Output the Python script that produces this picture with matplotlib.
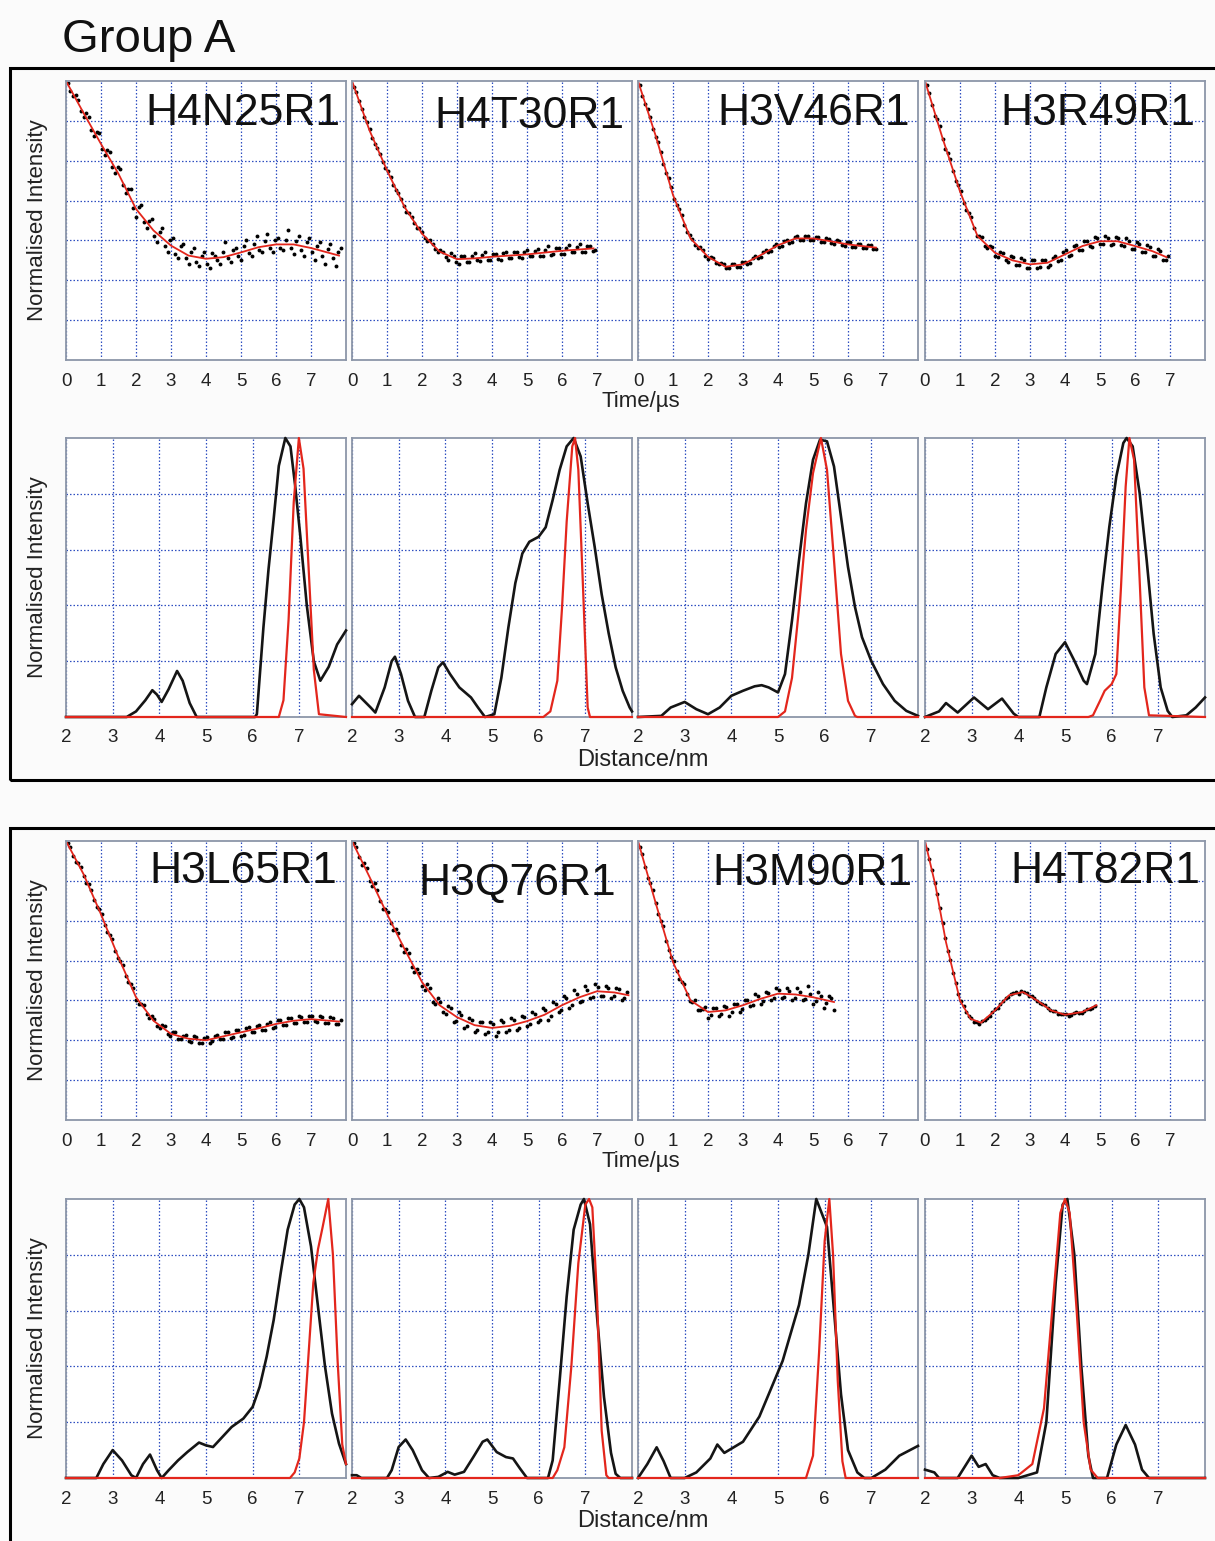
import matplotlib
matplotlib.use("Agg")
import matplotlib.pyplot as plt
from matplotlib.patches import Rectangle

plt.rcParams['font.family'] = ['Liberation Sans', 'DejaVu Sans']

# ---- time domain: sample times shared by the dot traces (each trace uses its own length)
dot_t = [0.05, 0.2, 0.35, 0.5, 0.65, 0.8, 0.95, 1.1, 1.25, 1.4, 1.55, 1.7, 1.85, 2.0,
         2.15, 2.3, 2.45, 2.6, 2.75, 2.9, 3.05, 3.2, 3.35, 3.5, 3.65, 3.8, 3.95, 4.1,
         4.25, 4.4, 4.55, 4.7, 4.85, 5.0, 5.15, 5.3, 5.45, 5.6, 5.75, 5.9, 6.05, 6.2,
         6.35, 6.5, 6.65, 6.8, 6.95, 7.1, 7.25, 7.4, 7.55, 7.7, 7.85]
dot_t2 = [0.125, 0.275, 0.425, 0.575, 0.725, 0.875, 1.025, 1.175, 1.325, 1.475, 1.625,
          1.775, 1.925, 2.075, 2.225, 2.375, 2.525, 2.675, 2.825, 2.975, 3.125, 3.275,
          3.425, 3.575, 3.725, 3.875, 4.025, 4.175, 4.325, 4.475, 4.625, 4.775, 4.925,
          5.075, 5.225, 5.375, 5.525, 5.675, 5.825, 5.975, 6.125, 6.275, 6.425, 6.575,
          6.725, 6.875, 7.025, 7.175, 7.325, 7.475, 7.625, 7.775]

names_a = ['H4N25R1', 'H4T30R1', 'H3V46R1', 'H3R49R1']
names_b = ['H3L65R1', 'H3Q76R1', 'H3M90R1', 'H4T82R1']

# H4N25R1
a1_fit_t = [0, 0.5, 1, 1.5, 2, 2.5, 3, 3.5, 4, 4.5, 5, 5.5, 6, 6.5, 7, 7.8]
a1_fit_y = [7.0, 6.2, 5.42, 4.67, 3.79, 3.25, 2.87, 2.62, 2.54, 2.58, 2.70, 2.83, 2.90, 2.90, 2.81, 2.62]
a1_dots = [6.95, 6.62, 6.52, 6.1, 6.1, 5.62, 5.7, 5.15, 5.22, 4.7, 4.78, 4.2, 4.28, 3.6,
           3.9, 3.3, 3.55, 2.95, 3.3, 2.7, 3.05, 2.55, 2.9, 2.4, 2.8, 2.35, 2.7, 2.3,
           2.62, 2.4, 2.95, 2.45, 2.8, 2.5, 3.0, 2.6, 3.1, 2.7, 3.15, 2.7, 3.05, 2.75,
           3.25, 2.65, 3.1, 2.6, 3.05, 2.5, 2.95, 2.4, 2.9, 2.35, 2.8]
a1_dots2 = [6.75, 6.65, 6.25, 6.2, 5.78, 5.72, 5.3, 5.28, 4.85, 4.85, 4.38, 4.3, 3.82, 3.85,
            3.45, 3.5, 3.1, 3.2, 2.85, 3.0, 2.65, 2.85, 2.55, 2.72, 2.45, 2.62, 2.42, 2.68,
            2.5, 2.7, 2.55, 2.75, 2.6, 2.85, 2.68, 2.92, 2.75, 2.98, 2.8, 3.0, 2.82, 3.02,
            2.8, 2.98, 2.75, 2.95, 2.7, 2.85, 2.62, 2.78, 2.55, 2.7]
# H4T30R1
a2_fit_t = [0, 0.5, 1, 1.5, 2, 2.5, 3, 3.5, 4, 5, 6, 6.9]
a2_fit_y = [7.0, 5.76, 4.76, 3.84, 3.17, 2.72, 2.53, 2.55, 2.59, 2.65, 2.74, 2.80]
a2_dots = [6.85, 6.5, 6.1, 5.8, 5.42, 5.17, 4.82, 4.6, 4.27, 4.05, 3.72, 3.58, 3.3, 3.2,
           2.98, 2.92, 2.7, 2.7, 2.52, 2.62, 2.42, 2.6, 2.45, 2.68, 2.48, 2.7, 2.5, 2.66,
           2.52, 2.72, 2.55, 2.7, 2.56, 2.75, 2.6, 2.78, 2.6, 2.85, 2.65, 2.82, 2.66, 2.88,
           2.7, 2.9, 2.72, 2.86, 2.76]
a2_dots2 = [6.72, 6.3, 5.97, 5.58, 5.33, 4.98, 4.73, 4.4, 4.19, 3.86, 3.7, 3.44, 3.3, 3.06,
            3.0, 2.78, 2.76, 2.58, 2.68, 2.46, 2.62, 2.47, 2.62, 2.5, 2.64, 2.52, 2.66, 2.54,
            2.68, 2.56, 2.7, 2.58, 2.72, 2.6, 2.74, 2.62, 2.77, 2.64, 2.8, 2.67, 2.82, 2.7,
            2.84, 2.72, 2.86, 2.74]
# H3V46R1
a3_fit_t = [0, 0.5, 1, 1.5, 2, 2.5, 3, 3.5, 4, 4.5, 5, 5.5, 6, 6.8]
a3_fit_y = [7.0, 5.64, 4.14, 3.05, 2.59, 2.34, 2.40, 2.63, 2.88, 3.05, 3.05, 2.98, 2.90, 2.82]
a3_dots = [6.9, 6.42, 6.1, 5.6, 5.22, 4.7, 4.33, 3.88, 3.63, 3.22, 3.04, 2.82, 2.76, 2.54,
           2.56, 2.4, 2.4, 2.3, 2.42, 2.34, 2.47, 2.44, 2.61, 2.58, 2.76, 2.74, 2.91, 2.86,
           3.02, 2.97, 3.1, 3.0, 3.1, 3.0, 3.09, 2.96, 3.04, 2.91, 2.99, 2.87, 2.95, 2.83,
           2.91, 2.8, 2.89, 2.79]
a3_dots2 = [6.62, 6.29, 5.8, 5.46, 4.93, 4.56, 4.05, 3.8, 3.39, 3.14, 2.89, 2.84, 2.62, 2.59,
            2.44, 2.44, 2.3, 2.4, 2.33, 2.45, 2.41, 2.57, 2.55, 2.72, 2.7, 2.87, 2.84, 2.99,
            2.94, 3.09, 3.0, 3.1, 3.0, 3.09, 2.97, 3.05, 2.93, 3.0, 2.88, 2.95, 2.84, 2.92,
            2.81, 2.89, 2.79]
# H3R49R1
a4_fit_t = [0, 0.5, 1, 1.5, 2, 2.5, 3, 3.5, 4, 4.5, 5, 5.5, 6, 6.5, 6.9]
a4_fit_y = [7.0, 5.57, 4.23, 3.11, 2.69, 2.5, 2.4, 2.44, 2.65, 2.86, 2.98, 2.98, 2.86, 2.73, 2.58]
a4_dots = [6.9, 6.4, 6.05, 5.55, 5.2, 4.75, 4.38, 3.95, 3.7, 3.3, 3.1, 2.85, 2.85, 2.6,
           2.7, 2.5, 2.6, 2.38, 2.55, 2.3, 2.5, 2.3, 2.52, 2.34, 2.56, 2.48, 2.72, 2.62,
           2.85, 2.75, 2.98, 2.85, 3.08, 2.9, 3.1, 2.88, 3.08, 2.88, 3.05, 2.78, 2.95, 2.7,
           2.88, 2.62, 2.78, 2.52, 2.62]
a4_dots2 = [6.7, 6.12, 5.86, 5.3, 5.04, 4.5, 4.24, 3.76, 3.58, 3.1, 3.08, 2.8, 2.83, 2.58,
            2.68, 2.46, 2.58, 2.38, 2.52, 2.32, 2.5, 2.34, 2.52, 2.38, 2.62, 2.52, 2.75, 2.64,
            2.88, 2.76, 2.98, 2.84, 3.05, 2.9, 3.06, 2.9, 3.05, 2.86, 2.98, 2.78, 2.92, 2.7,
            2.84, 2.62, 2.73, 2.52]
# H3L65R1
b1_fit_t = [0, 0.5, 1, 1.5, 2, 2.5, 3, 3.5, 4, 4.5, 5, 5.5, 6, 6.5, 7, 7.8]
b1_fit_y = [7.0, 6.17, 5.16, 4.08, 3.08, 2.49, 2.16, 2.04, 2.0, 2.1, 2.2, 2.3, 2.41, 2.49, 2.53, 2.47]
b1_dots = [6.95, 6.62, 6.45, 6.12, 5.92, 5.52, 5.3, 4.9, 4.65, 4.25, 4.0, 3.62, 3.42, 3.02,
           2.9, 2.66, 2.6, 2.35, 2.38, 2.15, 2.22, 2.04, 2.12, 1.98, 2.1, 1.92, 2.05, 1.94,
           2.12, 2.02, 2.2, 2.06, 2.25, 2.12, 2.3, 2.2, 2.36, 2.25, 2.42, 2.32, 2.5, 2.38,
           2.55, 2.44, 2.6, 2.45, 2.62, 2.48, 2.6, 2.44, 2.58, 2.4, 2.52]
b1_dots2 = [6.85, 6.48, 6.35, 5.95, 5.78, 5.34, 5.17, 4.71, 4.53, 4.06, 3.9, 3.46, 3.3, 2.92,
            2.88, 2.57, 2.54, 2.3, 2.35, 2.11, 2.2, 2.02, 2.13, 1.96, 2.09, 1.94, 2.07, 1.97,
            2.14, 2.03, 2.2, 2.08, 2.26, 2.14, 2.33, 2.21, 2.39, 2.27, 2.45, 2.33, 2.51, 2.38,
            2.56, 2.43, 2.59, 2.45, 2.6, 2.45, 2.58, 2.43, 2.56, 2.41]
# H3Q76R1
b2_fit_t = [0, 0.5, 1, 1.5, 2, 2.5, 3, 3.5, 4, 4.5, 5, 5.5, 6, 6.5, 7, 7.5, 7.9]
b2_fit_y = [7.0, 6.1, 5.17, 4.29, 3.46, 2.88, 2.58, 2.38, 2.31, 2.36, 2.48, 2.64, 2.88, 3.08, 3.23, 3.2, 3.13]
b2_dots = [6.95, 6.6, 6.45, 6.0, 5.95, 5.5, 5.3, 4.95, 4.8, 4.4, 4.3, 3.85, 3.8, 3.35,
           3.4, 2.95, 3.05, 2.7, 2.85, 2.45, 2.7, 2.3, 2.55, 2.2, 2.45, 2.15, 2.45, 2.1,
           2.5, 2.2, 2.55, 2.25, 2.6, 2.35, 2.7, 2.45, 2.8, 2.5, 2.95, 2.7, 3.1, 2.8,
           3.25, 2.95, 3.35, 3.05, 3.4, 3.1, 3.35, 3.05, 3.32, 3.0, 3.22]
b2_dots2 = [6.85, 6.4, 6.33, 5.86, 5.78, 5.3, 5.23, 4.76, 4.7, 4.22, 4.18, 3.72, 3.68, 3.26,
            3.3, 2.92, 2.97, 2.66, 2.8, 2.48, 2.64, 2.36, 2.52, 2.26, 2.46, 2.22, 2.42, 2.22,
            2.46, 2.25, 2.5, 2.32, 2.58, 2.4, 2.66, 2.5, 2.77, 2.62, 2.92, 2.76, 3.05, 2.88,
            3.17, 2.99, 3.27, 3.08, 3.34, 3.12, 3.32, 3.1, 3.29, 3.06]
# H3M90R1
b3_fit_t = [0, 0.5, 1, 1.5, 2, 2.5, 3, 3.5, 4, 4.5, 5, 5.6]
b3_fit_y = [7.0, 5.46, 3.96, 3.0, 2.71, 2.75, 2.88, 3.04, 3.17, 3.15, 3.08, 2.96]
b3_dots = [6.85, 6.35, 5.95, 5.45, 5.0, 4.5, 4.1, 3.75, 3.45, 3.15, 2.95, 2.75, 2.78, 2.55,
           2.8, 2.6, 2.85, 2.62, 2.92, 2.72, 3.0, 2.85, 3.15, 2.9, 3.22, 3.0, 3.3, 3.05,
           3.3, 3.02, 3.32, 3.0, 3.35, 2.92, 3.2, 2.8, 3.1, 2.75]
b3_dots2 = [6.68, 6.08, 5.76, 5.17, 4.87, 4.27, 3.98, 3.55, 3.41, 2.98, 3.0, 2.76, 2.83, 2.64,
            2.81, 2.66, 2.84, 2.72, 2.92, 2.79, 3.0, 2.89, 3.1, 2.98, 3.18, 3.06, 3.25, 3.08,
            3.24, 3.07, 3.22, 3.03, 3.17, 2.99, 3.12, 2.93, 3.06]
# H4T82R1
b4_fit_t = [0, 0.3, 0.6, 1.0, 1.3, 1.6, 2.0, 2.4, 2.8, 3.2, 3.6, 4.0, 4.5, 4.9]
b4_fit_y = [7.0, 5.88, 4.46, 3.0, 2.54, 2.44, 2.75, 3.13, 3.21, 3.0, 2.75, 2.64, 2.71, 2.88]
b4_dots = [6.8, 6.27, 5.66, 4.95, 4.25, 3.7, 3.15, 2.85, 2.6, 2.47, 2.42, 2.5, 2.6, 2.78,
           2.9, 3.06, 3.15, 3.2, 3.24, 3.18, 3.1, 2.98, 2.9, 2.8, 2.74, 2.66, 2.66, 2.62,
           2.68, 2.68, 2.74, 2.78, 2.86]
b4_dots2 = [6.55, 5.95, 5.31, 4.56, 4.02, 3.44, 2.98, 2.71, 2.55, 2.46, 2.48, 2.55, 2.71, 2.8,
            2.98, 3.09, 3.18, 3.17, 3.22, 3.1, 3.06, 2.93, 2.88, 2.75, 2.74, 2.65, 2.66, 2.64,
            2.71, 2.69, 2.78, 2.81]

# ---- distance distributions (black = measured, red = modelled)
a1_blk_x = [2, 3.3, 3.5, 3.7, 3.85, 3.95, 4.05, 4.2, 4.38, 4.5, 4.65, 4.8, 6.05, 6.09, 6.23, 6.34,
            6.45, 6.56, 6.7, 6.81, 6.91, 7.02, 7.16, 7.31, 7.45, 7.63, 7.81, 8.0]
a1_blk_y = [0, 0, 0.02, 0.06, 0.096, 0.08, 0.054, 0.1, 0.165, 0.13, 0.05, 0, 0, 0.01, 0.32, 0.53,
            0.71, 0.9, 1.0, 0.97, 0.83, 0.65, 0.4, 0.2, 0.13, 0.18, 0.26, 0.31]
a1_red_x = [2, 6.56, 6.66, 6.77, 6.88, 6.99, 7.09, 7.2, 7.31, 7.42, 8.0]
a1_red_y = [0, 0, 0.06, 0.35, 0.77, 1.0, 0.89, 0.53, 0.17, 0.01, 0]

a2_blk_x = [2.0, 2.15, 2.4, 2.5, 2.7, 2.85, 2.92, 3.05, 3.2, 3.35, 3.55, 3.7, 3.85, 3.95, 4.1,
            4.3, 4.55, 4.7, 4.85, 5.05, 5.2, 5.35, 5.5, 5.65, 5.8, 6.0, 6.15, 6.3, 6.45, 6.6,
            6.75, 6.9, 7.05, 7.2, 7.35, 7.5, 7.65, 7.8, 7.95, 8.0]
a2_blk_y = [0.046, 0.076, 0.034, 0.016, 0.106, 0.2, 0.216, 0.154, 0.058, 0, 0, 0.094, 0.178,
            0.196, 0.154, 0.106, 0.07, 0.034, 0, 0.01, 0.14, 0.32, 0.48, 0.586, 0.628, 0.646,
            0.68, 0.778, 0.886, 0.97, 1.0, 0.934, 0.766, 0.61, 0.44, 0.3, 0.178, 0.094, 0.034, 0.02]
a2_red_x = [2, 6.1, 6.25, 6.4, 6.5, 6.6, 6.72, 6.78, 6.85, 6.95, 7.05, 7.1, 8.0]
a2_red_y = [0, 0, 0.02, 0.13, 0.39, 0.7, 0.97, 1.0, 0.886, 0.466, 0.034, 0, 0]

a3_blk_x = [2.0, 2.5, 2.7, 3.0, 3.25, 3.5, 3.75, 4.0, 4.25, 4.5, 4.65, 4.8, 5.0, 5.15, 5.3, 5.45,
            5.6, 5.75, 5.9, 6.05, 6.2, 6.35, 6.5, 6.65, 6.8, 7.0, 7.25, 7.5, 7.75, 8.0]
a3_blk_y = [0, 0.004, 0.034, 0.054, 0.028, 0.01, 0.034, 0.076, 0.094, 0.11, 0.114, 0.106, 0.088,
            0.154, 0.346, 0.562, 0.766, 0.922, 0.994, 0.988, 0.898, 0.718, 0.538, 0.394, 0.286,
            0.2, 0.118, 0.058, 0.022, 0.004]
a3_red_x = [2, 5.0, 5.15, 5.3, 5.45, 5.6, 5.75, 5.92, 6.05, 6.2, 6.35, 6.5, 6.65, 6.7, 8.0]
a3_red_y = [0, 0, 0.02, 0.14, 0.39, 0.67, 0.874, 1.0, 0.886, 0.562, 0.226, 0.058, 0.004, 0, 0]

a4_blk_x = [2.0, 2.3, 2.45, 2.7, 3.05, 3.35, 3.65, 3.9, 4.0, 4.45, 4.6, 4.8, 5.0, 5.2, 5.4, 5.47,
            5.65, 5.8, 5.95, 6.1, 6.25, 6.32, 6.45, 6.6, 6.75, 6.9, 7.05, 7.2, 7.3, 7.6, 7.8, 8.0]
a4_blk_y = [0, 0.02, 0.05, 0.016, 0.07, 0.028, 0.066, 0.012, 0, 0, 0.106, 0.226, 0.268, 0.202,
            0.13, 0.118, 0.226, 0.466, 0.682, 0.862, 0.982, 1.0, 0.97, 0.802, 0.562, 0.298,
            0.106, 0.022, 0, 0.006, 0.034, 0.07]
a4_red_x = [2, 5.5, 5.6, 5.75, 5.85, 6.0, 6.1, 6.2, 6.3, 6.38, 6.48, 6.6, 6.7, 6.8, 8.0]
a4_red_y = [0, 0, 0.006, 0.058, 0.094, 0.118, 0.154, 0.466, 0.826, 1.0, 0.922, 0.49, 0.106, 0.006, 0]

b1_blk_x = [2.0, 2.65, 2.8, 3.0, 3.2, 3.4, 3.5, 3.65, 3.8, 3.95, 4.05, 4.2, 4.4, 4.6, 4.85, 5.0,
            5.15, 5.35, 5.55, 5.8, 6.0, 6.15, 6.3, 6.45, 6.6, 6.75, 6.9, 7.0, 7.1, 7.25, 7.4,
            7.55, 7.7, 7.85, 8.0]
b1_blk_y = [0, 0, 0.05, 0.1, 0.063, 0.01, 0, 0.05, 0.084, 0.028, 0, 0.028, 0.063, 0.093, 0.127,
            0.117, 0.111, 0.147, 0.183, 0.213, 0.255, 0.327, 0.435, 0.566, 0.734, 0.89, 0.98,
            1.0, 0.97, 0.83, 0.614, 0.4, 0.231, 0.123, 0.05]
b1_red_x = [2, 6.8, 6.9, 7.0, 7.1, 7.2, 7.3, 7.4, 7.5, 7.62, 7.72, 7.82, 7.92, 8.0]
b1_red_y = [0, 0, 0.02, 0.07, 0.2, 0.45, 0.7, 0.82, 0.9, 1.0, 0.8, 0.42, 0.12, 0.05]

b2_blk_x = [2.0, 2.1, 2.2, 2.75, 2.85, 3.0, 3.15, 3.3, 3.5, 3.65, 3.85, 4.05, 4.2, 4.4, 4.6, 4.8,
            4.9, 5.1, 5.3, 5.45, 5.6, 5.75, 6.2, 6.3, 6.45, 6.6, 6.75, 6.9, 6.97, 7.1, 7.25,
            7.4, 7.55, 7.65, 7.75, 8.0]
b2_blk_y = [0.01, 0.01, 0, 0, 0.028, 0.111, 0.138, 0.1, 0.028, 0, 0.004, 0.022, 0.012, 0.022,
            0.075, 0.13, 0.138, 0.093, 0.075, 0.07, 0.034, 0, 0, 0.063, 0.35, 0.65, 0.89, 0.98,
            1.0, 0.91, 0.58, 0.29, 0.09, 0.015, 0, 0]
b2_red_x = [2, 6.3, 6.4, 6.55, 6.7, 6.85, 7.0, 7.08, 7.15, 7.25, 7.35, 7.45, 7.5, 8.0]
b2_red_y = [0, 0, 0.028, 0.11, 0.4, 0.77, 0.98, 1.0, 0.97, 0.65, 0.17, 0.01, 0, 0]

b3_blk_x = [2.0, 2.2, 2.4, 2.55, 2.7, 3.0, 3.25, 3.55, 3.7, 3.85, 4.05, 4.25, 4.6, 4.9, 5.1,
            5.45, 5.65, 5.82, 6.05, 6.2, 6.35, 6.5, 6.7, 6.85, 7.0, 7.3, 7.6, 8.0]
b3_blk_y = [0, 0.05, 0.11, 0.06, 0, 0, 0.02, 0.07, 0.12, 0.09, 0.11, 0.13, 0.22, 0.34, 0.42,
            0.62, 0.8, 1.0, 0.9, 0.6, 0.3, 0.1, 0.02, 0, 0, 0.03, 0.08, 0.115]
b3_red_x = [2, 5.6, 5.75, 5.88, 6.0, 6.1, 6.18, 6.28, 6.38, 6.45, 8.0]
b3_red_y = [0, 0, 0.08, 0.45, 0.85, 1.0, 0.8, 0.35, 0.06, 0, 0]

b4_blk_x = [2.0, 2.2, 2.3, 2.7, 2.85, 3.0, 3.15, 3.3, 3.45, 3.6, 4.0, 4.4, 4.6, 4.8, 4.95, 5.05,
            5.2, 5.35, 5.5, 5.6, 5.9, 6.1, 6.3, 6.5, 6.65, 6.8, 8.0]
b4_blk_y = [0.03, 0.02, 0, 0, 0.04, 0.08, 0.04, 0.05, 0.01, 0, 0, 0.02, 0.2, 0.7, 0.98, 1.0,
            0.8, 0.4, 0.08, 0, 0, 0.12, 0.19, 0.12, 0.03, 0, 0]
b4_red_x = [2, 3.6, 4.0, 4.3, 4.55, 4.75, 4.9, 5.0, 5.1, 5.25, 5.4, 5.55, 5.7, 8.0]
b4_red_y = [0, 0, 0.01, 0.05, 0.25, 0.65, 0.95, 1.0, 0.95, 0.6, 0.2, 0.03, 0, 0]

time_ticks = [0, 1, 2, 3, 4, 5, 6, 7]
dist_ticks = [2, 3, 4, 5, 6, 7]

time_sets = [
    (a1_fit_t, a1_fit_y, a1_dots, a1_dots2), (a2_fit_t, a2_fit_y, a2_dots, a2_dots2),
    (a3_fit_t, a3_fit_y, a3_dots, a3_dots2), (a4_fit_t, a4_fit_y, a4_dots, a4_dots2),
    (b1_fit_t, b1_fit_y, b1_dots, b1_dots2), (b2_fit_t, b2_fit_y, b2_dots, b2_dots2),
    (b3_fit_t, b3_fit_y, b3_dots, b3_dots2), (b4_fit_t, b4_fit_y, b4_dots, b4_dots2)]
dist_sets = [
    (a1_blk_x, a1_blk_y, a1_red_x, a1_red_y), (a2_blk_x, a2_blk_y, a2_red_x, a2_red_y),
    (a3_blk_x, a3_blk_y, a3_red_x, a3_red_y), (a4_blk_x, a4_blk_y, a4_red_x, a4_red_y),
    (b1_blk_x, b1_blk_y, b1_red_x, b1_red_y), (b2_blk_x, b2_blk_y, b2_red_x, b2_red_y),
    (b3_blk_x, b3_blk_y, b3_red_x, b3_red_y), (b4_blk_x, b4_blk_y, b4_red_x, b4_red_y)]

# ---- layout (pixels of the 1215 x 1541 canvas)
W, H = 1215, 1541
fig = plt.figure(figsize=(W / 100, H / 100), dpi=100, facecolor='#fbfbfb')

col_x = [66, 352, 638, 925]
PW, PH = 280, 279
row_time = [81, 841]
row_dist = [438, 1199]
title_pos = [(340, 125), (624, 128), (910, 125), (1195, 125),
             (337, 883), (616, 895), (912, 885), (1200, 883)]

GRID = '#2f4fc0'
FRAME = '#8c96a8'
RED = '#e3261c'


def px_axes(x0, y0, w, h):
    return fig.add_axes([x0 / W, 1 - (y0 + h) / H, w / W, h / H])


def style(ax, xlim, ylim, xt, yt):
    ax.set_xlim(*xlim)
    ax.set_ylim(*ylim)
    ax.set_xticks(xt)
    ax.set_yticks(yt)
    ax.set_yticklabels([])
    ax.grid(True, color=GRID, linestyle=(0, (1.2, 1.6)), linewidth=0.9)
    ax.tick_params(axis='x', length=0, pad=9, labelsize=13.5, colors='#222222')
    ax.tick_params(axis='y', length=0)
    for s in ax.spines.values():
        s.set_color(FRAME)
        s.set_linewidth(1.3)
    ax.set_axisbelow(True)


def px_text(x, y, s, **kw):
    fig.text(x / W, 1 - y / H, s, **kw)


for g in range(2):
    for c in range(4):
        k = g * 4 + c
        fit_t, fit_y, dots, dots2 = time_sets[k]
        ax = px_axes(col_x[c], row_time[g], PW, PH)
        style(ax, (0, 8), (0, 7), time_ticks, [1, 2, 3, 4, 5, 6])
        ax.plot(dot_t[:len(dots)], dots, 'o', ms=2.8, color='black', mew=0)
        ax.plot(dot_t2[:len(dots2)], dots2, 'o', ms=2.8, color='black', mew=0)
        ax.plot(fit_t, fit_y, color=RED, lw=1.3)
        name = (names_a + names_b)[k]
        tx, ty = title_pos[k]
        px_text(tx, ty, name, ha='right', va='baseline', fontsize=32, color='#111111')

        bx, by, rx, ry = dist_sets[k]
        ax2 = px_axes(col_x[c], row_dist[g], PW, PH)
        style(ax2, (2, 8), (0, 1), dist_ticks, [0.2, 0.4, 0.6, 0.8])
        ax2.plot(bx, by, color='#151515', lw=1.9, clip_on=False, zorder=3,
                 solid_joinstyle='round')
        ax2.plot(rx, ry, color=RED, lw=1.6, clip_on=False, zorder=3.1)

    # shared labels
    px_text(38, row_time[g] + PH / 2, 'Normalised Intensity', rotation=90,
            ha='center', va='center', fontsize=16, color='#222222')
    px_text(38, row_dist[g] + PH / 2, 'Normalised Intensity', rotation=90,
            ha='center', va='center', fontsize=16, color='#222222')
    px_text(641, row_time[g] + PH + 42, 'Time/µs', ha='center', va='center',
            fontsize=16, color='#222222')
    px_text(643, row_dist[g] + PH + 43, 'Distance/nm', ha='center', va='center',
            fontsize=17, color='#222222')

# group frames
for top, bottom in [(68, 780), (828, 1560)]:
    fig.patches.append(Rectangle((10 / W, 1 - bottom / H), 1.0, (bottom - top) / H,
                                 transform=fig.transFigure, fill=False,
                                 edgecolor='black', linewidth=2.2, clip_on=False))

px_text(62, 52, 'Group A', ha='left', va='baseline', fontsize=34, color='#111111')

fig.savefig('out.png', dpi=100, facecolor=fig.get_facecolor())
